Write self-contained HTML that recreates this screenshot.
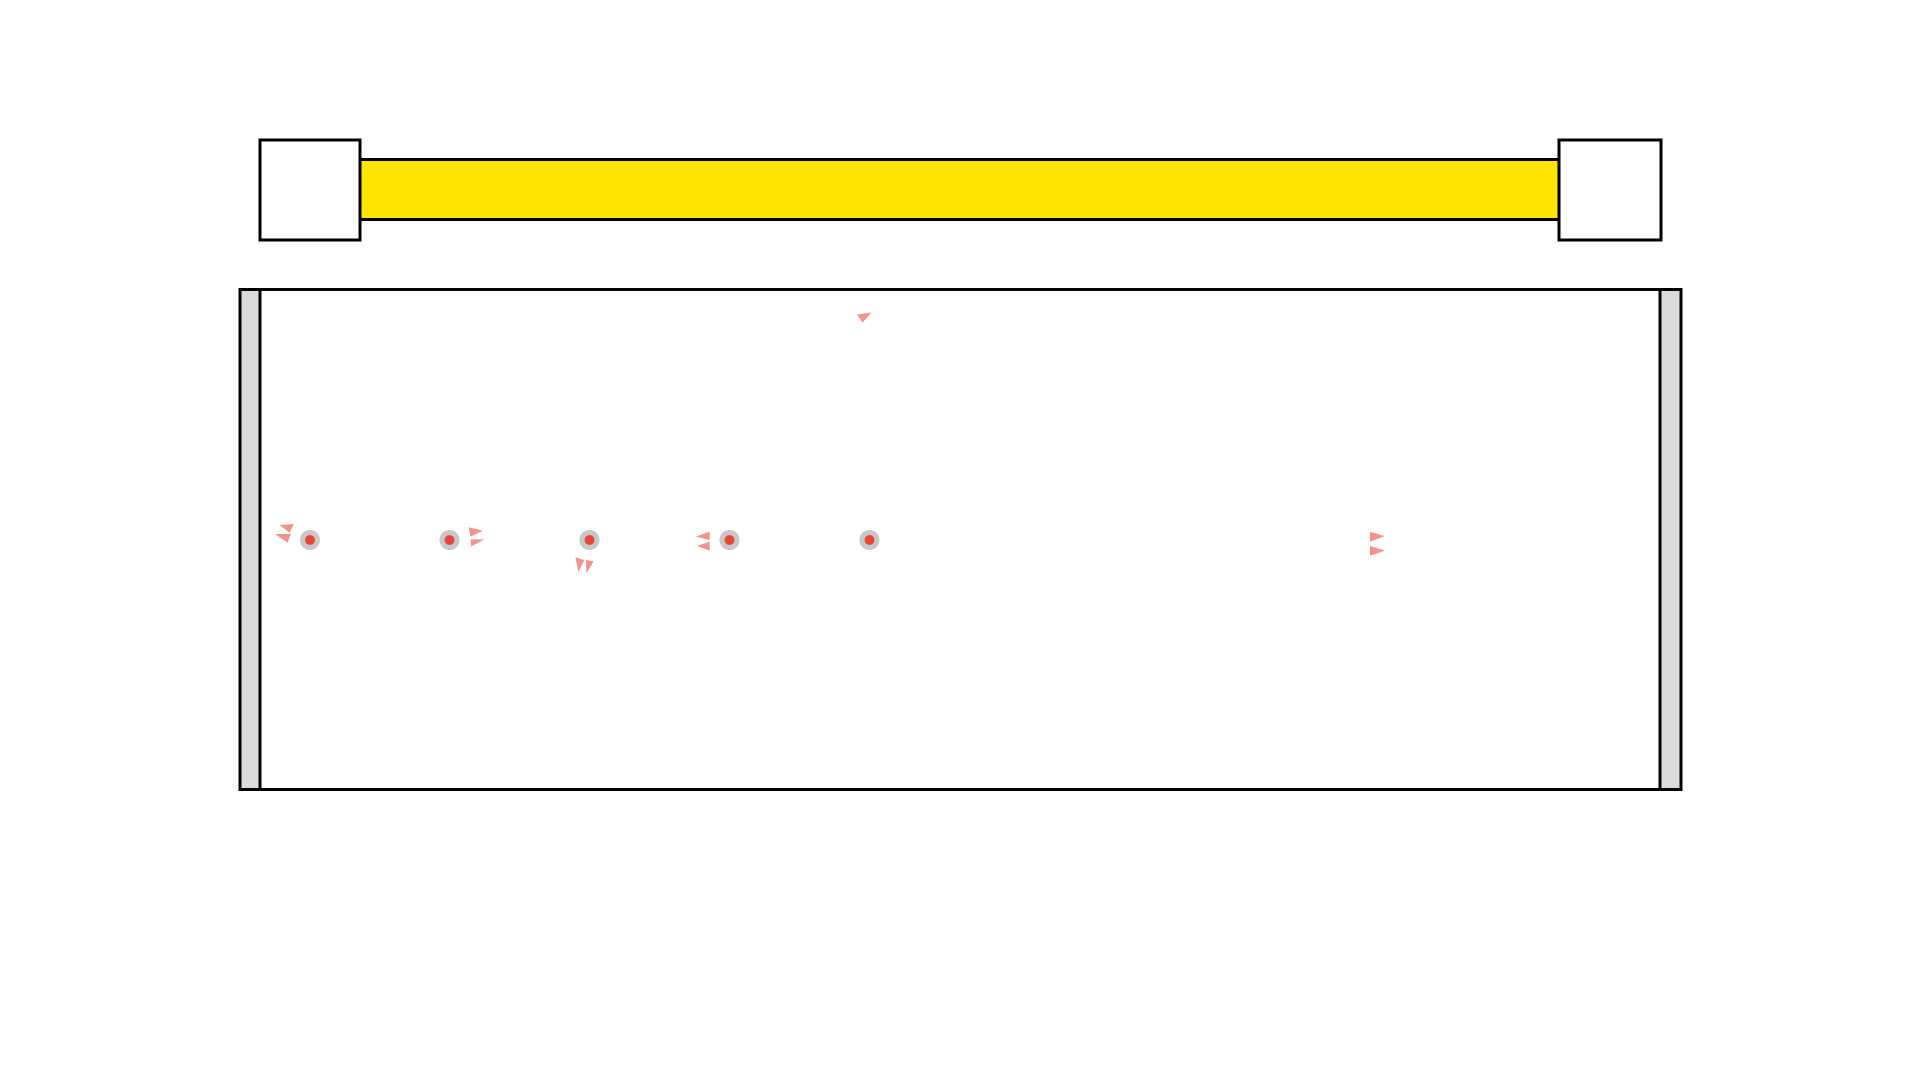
<!DOCTYPE html>
<html><head><meta charset="utf-8"><style>html,body{margin:0;padding:0;background:#fff;width:1920px;height:1080px;overflow:hidden}</style></head>
<body>
<svg width="1920" height="1080" viewBox="0 0 1920 1080" xmlns="http://www.w3.org/2000/svg">
<rect x="0" y="0" width="1920" height="1080" fill="#fff"/>
<!-- top bar -->
<rect x="360" y="159.5" width="1199" height="60" fill="#ffe500" stroke="#000" stroke-width="3"/>
<rect x="260" y="140" width="100" height="100" fill="#fff" stroke="#000" stroke-width="3"/>
<rect x="1559" y="140" width="102" height="100" fill="#fff" stroke="#000" stroke-width="3"/>
<!-- main box -->
<rect x="240" y="289.5" width="1441" height="500" fill="#fff" stroke="#000" stroke-width="3"/>
<rect x="241.5" y="291" width="18" height="497" fill="#dadada"/>
<line x1="260" y1="289.5" x2="260" y2="789.5" stroke="#000" stroke-width="3"/>
<rect x="1661" y="291" width="18.5" height="497" fill="#dadada"/>
<line x1="1660" y1="289.5" x2="1660" y2="789.5" stroke="#000" stroke-width="3"/>
<!-- dots -->
<g fill="#c8c8c8"><circle cx="310" cy="540" r="10"/><circle cx="449.5" cy="540" r="10"/><circle cx="589.5" cy="540" r="10"/><circle cx="729.5" cy="540" r="10"/><circle cx="869.5" cy="540" r="10"/></g>
<g fill="#e8453c"><circle cx="310" cy="540" r="5"/><circle cx="449.5" cy="540" r="5"/><circle cx="589.5" cy="540" r="5"/><circle cx="729.5" cy="540" r="5"/><circle cx="869.5" cy="540" r="5"/></g>
<!-- arrows -->
<g fill="#f4918a">
<g transform="translate(240,500) scale(0.42088,0.33333)">
<polygon points="94,75 128,72 118,98"/>
<polygon points="83,102 121,102 113,128"/>
<polygon points="543,82 577,92 548,110"/>
<polygon points="548,118 580,118 549,140"/>
<polygon points="797,172 818,180 804,216"/>
<polygon points="822,180 840,184 823,220"/>
<polygon points="1116,95 1116,120 1083,110"/>
<polygon points="1116,125 1116,152 1086,138"/>
</g>
<g transform="translate(200,280) scale(0.44643,0.33333)">
<polygon points="1472,104 1504,97 1484,128"/>
</g>
<g transform="translate(1300,500) scale(0.33333,0.33333)">
<polygon points="210,96 255,108 210,125"/>
<polygon points="210,138 255,152 210,167"/>
</g>
</g>
</svg>
</body></html>
